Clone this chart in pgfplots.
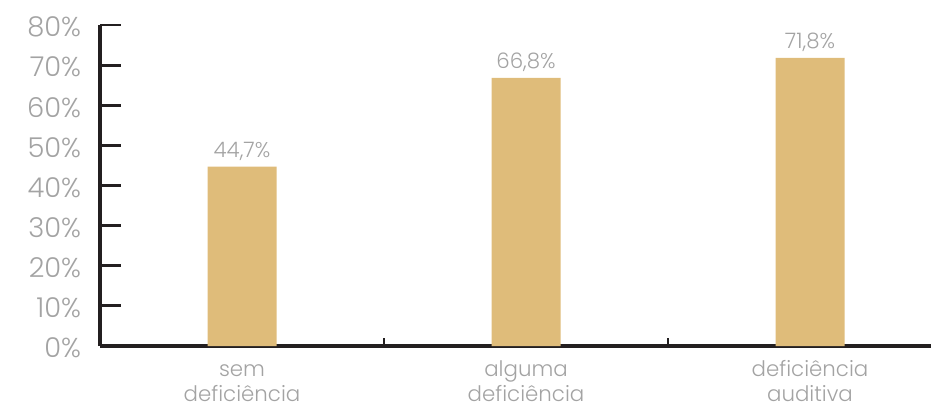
\documentclass[border=0pt]{standalone}
\usepackage{fontspec}
\setmainfont{Poppins Light}
\usepackage{pgfplots}
\pgfplotsset{compat=1.18}
\definecolor{barcol}{HTML}{DFBC7A}
\definecolor{txtgray}{HTML}{A3A3A3}
\definecolor{axisblack}{HTML}{231F20}
\begin{document}
\begin{tikzpicture}
\useasboundingbox (0,0) rectangle (698.25pt,303pt);
\begin{axis}[
  at={(75pt,43.5pt)}, anchor=south west,
  scale only axis, width=623.25pt, height=240.75pt,
  xmin=-0.5, xmax=2.426, ymin=0, ymax=80,
  ybar, bar width=51.75pt,
  axis x line=bottom, axis y line=left,
  axis line style={-, line width=2.3pt, color=axisblack},
  tick align=inside,
  major tick length=6pt,
  every tick/.style={line width=2.2pt, color=axisblack},
  /pgf/number format/assume math mode=true,
  xtick={0.5,1.5}, xticklabels={},
  extra x ticks={0,1,2},
  extra x tick labels={{\strut sem\\deficiência},{\strut alguma\\deficiência},{\strut deficiência\\auditiva}},
  extra x tick style={major tick length=0pt},
  xticklabel style={align=center, text=txtgray, inner sep=0pt,
    font=\fontsize{16pt}{18.75pt}\selectfont, yshift=-9.75pt},
  ytick=\empty,
  extra y ticks={0,10,20,30,40,50,60,70,80},
  extra y tick labels={0\%,10\%,20\%,30\%,40\%,50\%,60\%,70\%,80\%},
  extra y tick style={major tick length=15.75pt},
  yticklabel style={text=txtgray, inner sep=0pt, xshift=-14pt, yshift=-1.5pt,
    font=\fontsize{20.5pt}{24pt}\selectfont},
  clip=false,
]
\addplot[fill=barcol, draw=none,
  nodes near coords={\pgfmathprintnumber[fixed, fixed zerofill, precision=1, use comma]{\pgfplotspointmeta}\%},
  every node near coord/.append style={text=txtgray, inner sep=0pt, anchor=base, yshift=6.75pt,
    font=\fontsize{16pt}{19pt}\selectfont}]
  coordinates {(0,44.7) (1,66.8) (2,71.8)};
\end{axis}
\end{tikzpicture}
\end{document}
